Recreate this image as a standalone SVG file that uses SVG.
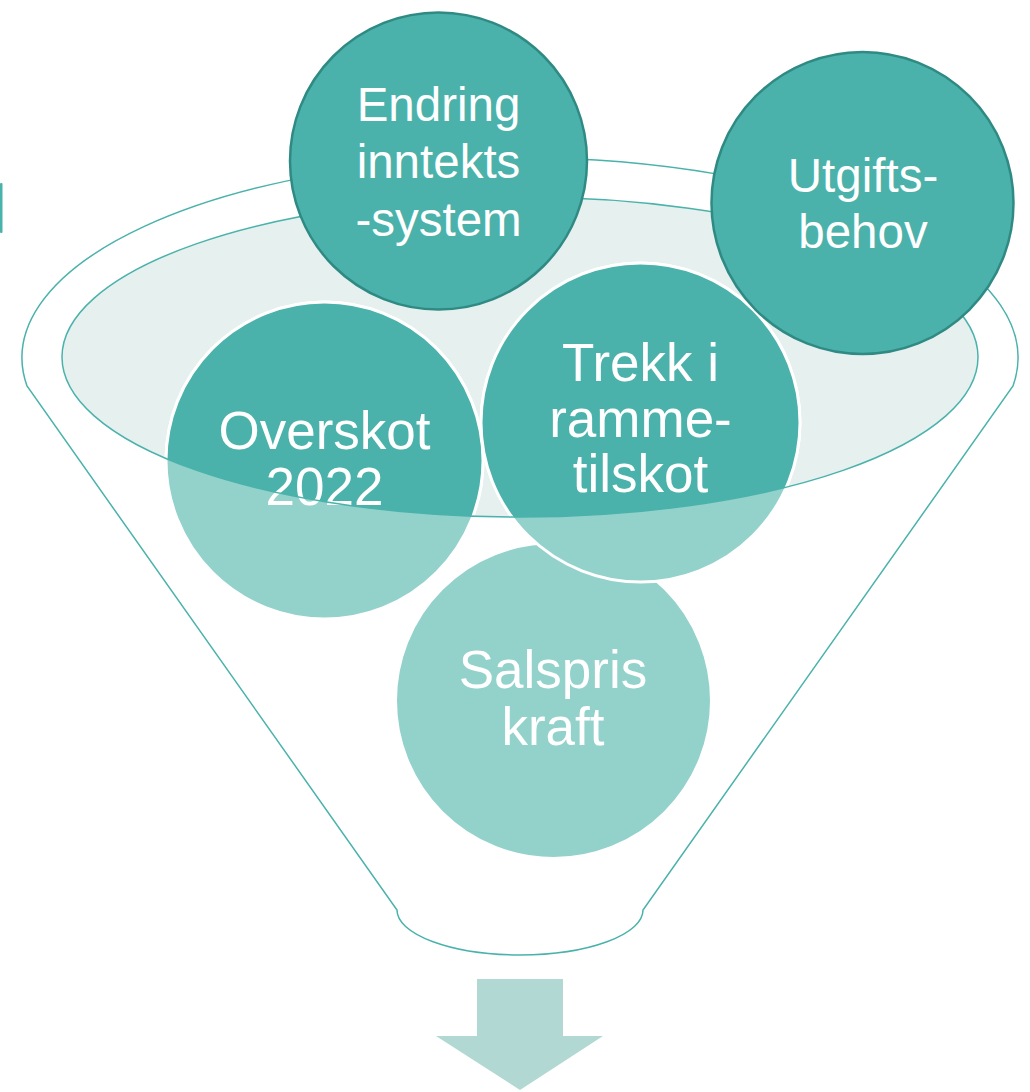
<svg xmlns="http://www.w3.org/2000/svg" width="1030" height="1092" viewBox="0 0 1030 1092">
<style>
.funnel{fill:none;stroke:#4ab2ab;stroke-width:1.5}
.low{fill:#93d1cb;stroke:#ffffff;stroke-width:3}
.lowdark{fill:#4ab2ab;stroke:#ffffff;stroke-width:3}
.top{fill:#4ab2ab;stroke:#2f8a84;stroke-width:2.5}
.t{font-family:"Liberation Sans",Arial,sans-serif;font-size:47.5px;fill:#ffffff;text-anchor:middle}
.tl{font-size:53px}
</style>
<defs>
<clipPath id="inner"><ellipse cx="520" cy="357" rx="458" ry="160"/></clipPath>
</defs>
<rect x="0" y="183" width="2.5" height="50" rx="1" fill="#4ab2ab"/>
<g id="funnel">
<path class="funnel" d="M 27 386 A 498 200 0 1 1 1013 386 L 643 910 A 123 45 0 0 1 397 910 Z"/>
<ellipse cx="520" cy="357" rx="458" ry="160" fill="#e6f0ee"/>
</g>
<g id="salspris">
<circle class="low" cx="553.5" cy="700.5" r="158"/>
<text class="t tl" x="553" y="688">Salspris</text>
<text class="t tl" x="553" y="745">kraft</text>
</g>
<g id="overskot">
<circle class="low" cx="324.5" cy="460.5" r="158.5"/>
<circle class="lowdark" cx="324.5" cy="460.5" r="158.5" clip-path="url(#inner)"/>
<text class="t tl" x="324.5" y="449">Overskot</text>
<text class="t tl" x="324.5" y="505">2022</text>
</g>
<g id="trekk">
<circle class="low" cx="640.5" cy="422.5" r="159.5"/>
<circle class="lowdark" cx="640.5" cy="422.5" r="159.5" clip-path="url(#inner)"/>
<text class="t tl" x="640.5" y="381">Trekk i</text>
<text class="t tl" x="640.5" y="437">ramme-</text>
<text class="t tl" x="640.5" y="492">tilskot</text>
</g>
<g id="rim">
<ellipse cx="520" cy="357" rx="458" ry="160" fill="none" stroke="#4ab2ab" stroke-width="1.5"/>
</g>
<g id="endring">
<circle class="top" cx="438.5" cy="161" r="148.5"/>
<text class="t" x="438.5" y="121">Endring</text>
<text class="t" x="438.5" y="178">inntekts</text>
<text class="t" x="438.5" y="236">-system</text>
</g>
<g id="utgifts">
<circle class="top" cx="862.5" cy="203" r="151"/>
<text class="t" x="863" y="192">Utgifts-</text>
<text class="t" x="863" y="248">behov</text>
</g>
<g id="connectors">
<path d="M 477 979 H 563 V 1036 H 603 L 520 1090 L 436 1036 H 477 Z" fill="#b2d8d3"/>
</g>
</svg>
